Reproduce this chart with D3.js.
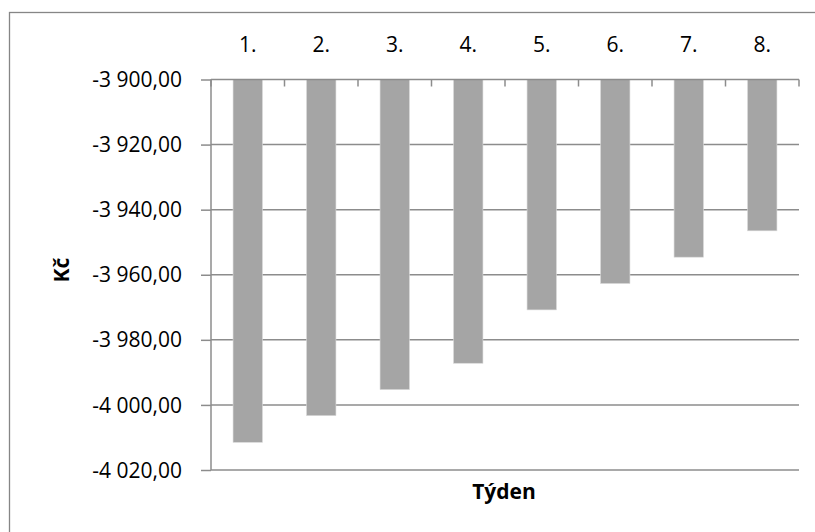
<!DOCTYPE html>
<html>
<head>
<meta charset="utf-8">
<script src="https://cdn.jsdelivr.net/npm/d3@7"></script>
<style>
  html, body { margin: 0; padding: 0; background: #fff; }
  svg { display: block; }
  text { font-family: "Open Sans", "Liberation Sans", sans-serif; fill: #000; }
</style>
</head>
<body>
<svg id="chart" width="815" height="532"></svg>
<script>
const categories = ["1.", "2.", "3.", "4.", "5.", "6.", "7.", "8."];
const values = [-4011.5, -4003.3, -3995.3, -3987.2, -3970.8, -3962.7, -3954.6, -3946.5];
const yTicks = [-3900, -3920, -3940, -3960, -3980, -4000, -4020];
const yTitle = "Kč";
const xTitle = "Týden";

const svg = d3.select("#chart");
const plot = { left: 211, right: 799, top: 79.5, bottom: 470 };

// outer chart border (extends past the right and bottom edges)
svg.append("rect")
  .attr("x", 9.5).attr("y", 12.5)
  .attr("width", 830).attr("height", 540)
  .attr("fill", "#fff").attr("stroke", "#868686").attr("stroke-width", 1.3);

const x = d3.scaleBand().domain(categories).range([plot.left, plot.right]).paddingInner(0.6).paddingOuter(0.3);
const xOuter = d3.scaleBand().domain(categories).range([plot.left, plot.right]).padding(0);
const y = d3.scaleLinear().domain([-3900, -4020]).range([plot.top, plot.bottom]);

// horizontal gridlines
svg.append("g").selectAll("line").data(yTicks.filter(v => v !== -3900))
  .join("line")
  .attr("x1", plot.left).attr("x2", plot.right)
  .attr("y1", d => y(d)).attr("y2", d => y(d))
  .attr("stroke", "#8c8c8c").attr("stroke-width", 1.5);

// bars (hang down from the -3900 baseline)
svg.append("g").selectAll("rect").data(values)
  .join("rect")
  .attr("x", (d, i) => x(categories[i]))
  .attr("width", x.bandwidth())
  .attr("y", y(-3900))
  .attr("height", d => y(d) - y(-3900))
  .attr("fill", "#a5a5a5")
  .attr("stroke", "#d9d9d9").attr("stroke-width", 0.6);

// y axis
const yAxis = d3.axisLeft(y).tickValues(yTicks).tickSize(10).tickPadding(19)
  .tickFormat(d => d3.format(",.2f")(d).replace(/,/g, " ").replace(".", ",").replace("−", "-"));
const gy = svg.append("g").attr("transform", `translate(${plot.left},0)`).call(yAxis);
gy.select(".domain").attr("stroke", "#8c8c8c").attr("stroke-width", 1.5).attr("d", `M0,${plot.top}V${plot.bottom}`);
gy.selectAll(".tick line").attr("stroke", "#8c8c8c").attr("stroke-width", 1.5);
gy.selectAll(".tick text").attr("font-size", 21).attr("font-family", "Open Sans").attr("fill", "#000")
  .attr("dy", "0.34em");

// x axis at top (at -3900), ticks between categories pointing down
const boundaries = categories.map(c => xOuter(c)).concat([plot.right]);
svg.append("line")
  .attr("x1", plot.left).attr("x2", plot.right)
  .attr("y1", y(-3900)).attr("y2", y(-3900))
  .attr("stroke", "#8c8c8c").attr("stroke-width", 1.5);
svg.append("g").selectAll("line").data(boundaries)
  .join("line")
  .attr("x1", d => d).attr("x2", d => d)
  .attr("y1", y(-3900)).attr("y2", y(-3900) + 7)
  .attr("stroke", "#8c8c8c").attr("stroke-width", 1.5);
svg.append("g").selectAll("text").data(categories)
  .join("text")
  .attr("x", d => xOuter(d) + xOuter.bandwidth() / 2)
  .attr("y", 52)
  .attr("text-anchor", "middle")
  .attr("font-size", 21)
  .text(d => d);

// axis titles
svg.append("text")
  .attr("transform", `translate(69,270) rotate(-90)`)
  .attr("text-anchor", "middle")
  .attr("font-size", 21).attr("font-weight", "bold")
  .text(yTitle);
svg.append("text")
  .attr("x", 504).attr("y", 499)
  .attr("text-anchor", "middle")
  .attr("font-size", 21).attr("font-weight", "bold")
  .text(xTitle);
</script>
</body>
</html>
